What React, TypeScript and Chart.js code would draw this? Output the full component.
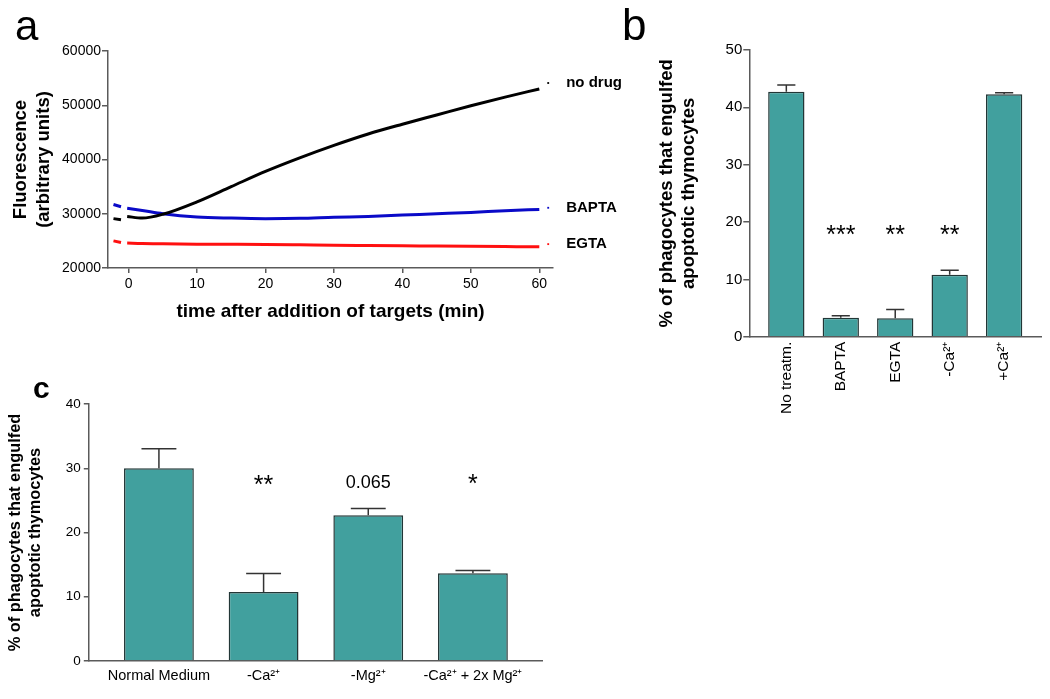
import React, { useEffect, useRef } from 'react';
import { Chart, registerables } from 'chart.js';

Chart.register(...registerables);

const FONT = "'Liberation Sans', Arial, Helvetica, sans-serif";
Chart.defaults.font.family = FONT;
Chart.defaults.color = '#000';

// ---------- Panel a data ----------
const timeMin = [-2.2, -1.1, -0.7, -0.2, 2, 5, 10, 15, 20, 25, 30, 35, 40, 45, 50, 55, 60];
const noDrug = [29100, 28900, null, 29500, 29200, 29900, 32200, 35000, 37800, 40300, 42600, 44700, 46500, 48200, 49900, 51500, 53000];
const bapta = [31700, 31300, null, 31000, 30600, 30000, 29400, 29200, 29100, 29150, 29350, 29500, 29750, 30000, 30250, 30550, 30800];
const egta = [25000, 24700, null, 24600, 24500, 24450, 24400, 24380, 24350, 24280, 24200, 24150, 24100, 24050, 24000, 23950, 23900];
const seriesNames = ['no drug', 'BAPTA', 'EGTA'];
const seriesColors = ['#000000', '#0a0ac8', '#ff1010'];
const labelTime = 61.3;
const labelLevels = [54100, 31100, 24400];
const aXTicks = [0, 10, 20, 30, 40, 50, 60];
const aYTicks = [20000, 30000, 40000, 50000, 60000];

// ---------- Panel b data ----------
const bCategories = ['No treatm.', 'BAPTA', 'EGTA', '-Ca²⁺', '+Ca²⁺'];
const bValues = [42.7, 3.3, 3.2, 10.8, 42.3];
const bErrors = [1.2, 0.35, 1.55, 0.8, 0.25];
const bMarks = ['', '***', '**', '**', ''];
const bMarkLevels = [0, 16.3, 16.3, 16.3, 0];
const bYTicks = [0, 10, 20, 30, 40, 50];

// ---------- Panel c data ----------
const cCategories = ['Normal Medium', '-Ca²⁺', '-Mg²⁺', '-Ca²⁺ + 2x Mg²⁺'];
const cValues = [30.0, 10.75, 22.7, 13.65];
const cErrors = [3.05, 2.85, 1.05, 0.45];
const cMarks = ['', '**', '0.065', '*'];
const cMarkLevels = [0, 26.1, 26.9, 26.3];
const cYTicks = [0, 10, 20, 30, 40];

const BAR_FILL = '#41a09e';
const BAR_EDGE = '#223636';
const AXIS = '#5a5a5a';

const lineLabelPlugin = {
  id: 'lineLabels',
  afterDatasetsDraw(chart: any) {
    const { ctx, scales } = chart;
    ctx.save();
    ctx.font = `bold 15px ${FONT}`;
    ctx.fillStyle = '#000';
    ctx.textBaseline = 'middle';
    ctx.textAlign = 'left';
    seriesNames.forEach((name, i) => {
      const x = scales.x.getPixelForValue(labelTime) + 18;
      const y = scales.y.getPixelForValue(labelLevels[i]);
      ctx.fillText(name, x, y);
    });
    ctx.restore();
  },
};

function makeBarPlugin(errors: number[], marks: string[], levels: number[], markFont: (m: string) => string) {
  return {
    id: 'errorsAndMarks',
    afterDatasetsDraw(chart: any) {
      const { ctx, scales } = chart;
      const meta = chart.getDatasetMeta(0);
      const values = chart.data.datasets[0].data;
      ctx.save();
      ctx.strokeStyle = '#333';
      ctx.lineWidth = 1.5;
      meta.data.forEach((el: any, i: number) => {
        const v = values[i].y;
        const top = scales.y.getPixelForValue(v + errors[i]);
        const cap = el.width / 4;
        ctx.beginPath();
        ctx.moveTo(el.x, el.y);
        ctx.lineTo(el.x, top);
        ctx.moveTo(el.x - cap, top);
        ctx.lineTo(el.x + cap, top);
        ctx.stroke();
        if (marks[i]) {
          ctx.font = markFont(marks[i]);
          ctx.fillStyle = '#000';
          ctx.textAlign = 'center';
          ctx.textBaseline = 'alphabetic';
          ctx.fillText(marks[i], el.x, scales.y.getPixelForValue(levels[i]));
        }
      });
      ctx.restore();
    },
  };
}

function makeA(): any {
  const series = [noDrug, bapta, egta];
  const lineSets = series.map((s, k) => ({
    label: seriesNames[k],
    data: timeMin.map((t, i) => ({ x: t, y: s[i] })),
    borderColor: seriesColors[k],
    backgroundColor: seriesColors[k],
    borderWidth: 3,
    pointRadius: 0,
    cubicInterpolationMode: 'monotone',
    spanGaps: false,
  }));
  const markerSets = labelLevels.map((lv, k) => ({
    label: seriesNames[k] + ' marker',
    data: [{ x: labelTime, y: lv }],
    showLine: false,
    pointStyle: 'rect',
    pointRadius: 1.3,
    borderWidth: 0,
    backgroundColor: seriesColors[k],
    borderColor: seriesColors[k],
  }));
  return {
    type: 'line',
    data: { datasets: [...lineSets, ...markerSets] },
    options: {
      responsive: false,
      animation: false,
      layout: { padding: { left: 0, top: 51, right: 87, bottom: 12 } },
      plugins: { legend: { display: false }, tooltip: { enabled: false } },
      scales: {
        x: {
          type: 'linear',
          min: -3,
          max: 62,
          afterBuildTicks: (s: any) => { s.ticks = aXTicks.map((v) => ({ value: v })); },
          afterFit: (s: any) => { s.height = 60; },
          grid: { display: true, drawOnChartArea: false, drawTicks: true, tickLength: 5, color: AXIS, lineWidth: 1.5 },
          border: { display: true, color: AXIS, width: 1.5 },
          ticks: { font: { size: 14 }, color: '#000', padding: 3, callback: (v: any) => String(v) },
          title: {
            display: true,
            text: 'time after addition of targets (min)',
            font: { size: 19, weight: 'bold' },
            color: '#000',
            padding: { top: 0, bottom: 4.6 },
          },
        },
        y: {
          type: 'linear',
          min: 20000,
          max: 60000,
          afterBuildTicks: (s: any) => { s.ticks = aYTicks.map((v) => ({ value: v })); },
          afterFit: (s: any) => { s.width = 108; },
          grid: { display: true, drawOnChartArea: false, drawTicks: true, tickLength: 6, color: AXIS, lineWidth: 1.5 },
          border: { display: true, color: AXIS, width: 1.5 },
          ticks: { font: { size: 14 }, color: '#000', padding: 1, callback: (v: any) => String(v) },
          title: {
            display: true,
            text: ['Fluorescence', '(arbitrary units)'],
            font: { size: 18.5, weight: 'bold', lineHeight: 1.25 },
            color: '#000',
            padding: { top: 9.4, bottom: 0 },
          },
        },
      },
    },
    plugins: [lineLabelPlugin],
  };
}

function makeBar(opts: {
  categories: string[];
  values: number[];
  errors: number[];
  marks: string[];
  levels: number[];
  yTicks: number[];
  xMin: number;
  xMax: number;
  padding: any;
  yWidth: number;
  xHeight: number;
  rotate: boolean;
  xFont: number;
  xPad: number;
  yFont: number;
  yTickLen: number;
  yPad: number;
  titleSize: number;
  titlePad: number;
  markFont: (m: string) => string;
}): any {
  return {
    type: 'bar',
    data: {
      datasets: [
        {
          data: opts.values.map((v, i) => ({ x: i, y: v })),
          backgroundColor: BAR_FILL,
          borderColor: BAR_EDGE,
          borderWidth: 1.5,
          categoryPercentage: 1,
          barPercentage: 0.667,
        },
      ],
    },
    options: {
      responsive: false,
      animation: false,
      layout: { padding: opts.padding },
      plugins: { legend: { display: false }, tooltip: { enabled: false } },
      scales: {
        x: {
          type: 'linear',
          offset: false,
          min: opts.xMin,
          max: opts.xMax,
          afterBuildTicks: (s: any) => { s.ticks = opts.categories.map((_, i) => ({ value: i })); },
          afterFit: (s: any) => { s.height = opts.xHeight; },
          grid: { display: false, drawTicks: false, tickLength: 0, offset: false },
          border: { display: true, color: AXIS, width: 1.5 },
          ticks: {
            autoSkip: false,
            minRotation: opts.rotate ? 90 : 0,
            maxRotation: opts.rotate ? 90 : 0,
            font: { size: opts.xFont },
            color: '#000',
            padding: opts.xPad,
            callback: (v: any) => opts.categories[v] ?? '',
          },
        },
        y: {
          type: 'linear',
          min: opts.yTicks[0],
          max: opts.yTicks[opts.yTicks.length - 1],
          afterBuildTicks: (s: any) => { s.ticks = opts.yTicks.map((v) => ({ value: v })); },
          afterFit: (s: any) => { s.width = opts.yWidth; },
          grid: { display: true, drawOnChartArea: false, drawTicks: true, tickLength: opts.yTickLen, color: AXIS, lineWidth: 1.5 },
          border: { display: true, color: AXIS, width: 1.5 },
          ticks: { font: { size: opts.yFont }, color: '#000', padding: opts.yPad, callback: (v: any) => String(v) },
          title: {
            display: true,
            text: ['% of phagocytes that engulfed', 'apoptotic thymocytes'],
            font: { size: opts.titleSize, weight: 'bold', lineHeight: 1.2 },
            color: '#000',
            padding: { top: opts.titlePad, bottom: 0 },
          },
        },
      },
    },
    plugins: [makeBarPlugin(opts.errors, opts.marks, opts.levels, opts.markFont)],
  };
}

function makeB(): any {
  return makeBar({
    categories: bCategories,
    values: bValues,
    errors: bErrors,
    marks: bMarks,
    levels: bMarkLevels,
    yTicks: bYTicks,
    xMin: -0.68,
    xMax: 4.69,
    padding: { left: 0, top: 50, right: 8.3, bottom: 13.3 },
    yWidth: 129.3,
    xHeight: 100,
    rotate: true,
    xFont: 15.5,
    xPad: 5,
    yFont: 15,
    yTickLen: 6,
    yPad: 1,
    titleSize: 18.5,
    titlePad: 35.6,
    markFont: () => `25px ${FONT}`,
  });
}

function makeC(): any {
  return makeBar({
    categories: cCategories,
    values: cValues,
    errors: cErrors,
    marks: cMarks,
    levels: cMarkLevels,
    yTicks: cYTicks,
    xMin: -0.67,
    xMax: 3.66,
    padding: { left: 0, top: 34, right: 78, bottom: 0 },
    yWidth: 88.8,
    xHeight: 38,
    rotate: false,
    xFont: 14.5,
    xPad: 6.5,
    yFont: 13.5,
    yTickLen: 5,
    yPad: 3,
    titleSize: 16.4,
    titlePad: 5.8,
    markFont: (m: string) => (m.indexOf('*') >= 0 ? `25px ${FONT}` : `18px ${FONT}`),
  });
}

function ChartBox(props: { left: number; top: number; width: number; height: number; make: () => any }) {
  const ref = useRef<HTMLCanvasElement>(null);
  useEffect(() => {
    const chart = new Chart(ref.current as HTMLCanvasElement, props.make());
    return () => chart.destroy();
  }, []);
  return (
    <div style={{ position: 'absolute', left: props.left, top: props.top, width: props.width, height: props.height }}>
      <canvas ref={ref} width={props.width} height={props.height} style={{ display: 'block' }} />
    </div>
  );
}

const letterBase: React.CSSProperties = {
  position: 'absolute',
  fontFamily: FONT,
  lineHeight: 1,
  color: '#000',
  margin: 0,
};

export default function App() {
  return (
    <div style={{ position: 'absolute', left: 0, top: 0, width: 1050, height: 699, background: '#fff', overflow: 'hidden' }}>
      <ChartBox left={0} top={0} width={640} height={340} make={makeA} />
      <ChartBox left={620} top={0} width={430} height={450} make={makeB} />
      <ChartBox left={0} top={370} width={620} height={329} make={makeC} />
      <div style={{ ...letterBase, left: 15, top: 4.5, fontSize: 42 }}>a</div>
      <div style={{ ...letterBase, left: 622, top: 2.7, fontSize: 44 }}>b</div>
      <div style={{ ...letterBase, left: 33, top: 372.6, fontSize: 30, fontWeight: 'bold' }}>c</div>
    </div>
  );
}
